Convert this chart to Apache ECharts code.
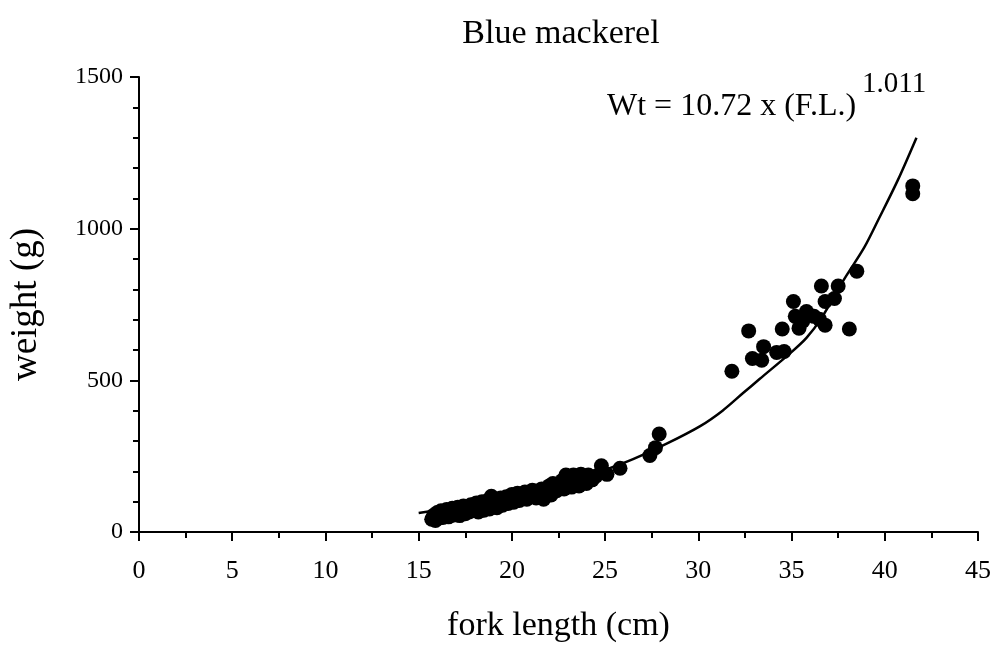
<!DOCTYPE html>
<html>
<head>
<meta charset="utf-8">
<title>Blue mackerel</title>
<script src="https://cdn.jsdelivr.net/npm/echarts@6/dist/echarts.min.js"></script>
<style>
  html, body { margin: 0; padding: 0; background: #fff; }
  #chart { width: 997px; height: 648px; }
</style>
</head>
<body>
<div id="chart"></div>
<script>
// Fork length (cm) of each sampled fish
const forkLength = [
  15.7, 15.8, 15.9, 16.0, 16.1, 16.2, 16.3, 16.4, 16.5, 16.6,
  16.7, 16.8, 16.9, 17.0, 17.1, 17.2, 17.3, 17.4, 17.5, 17.6,
  17.7, 17.8, 17.9, 18.0, 18.1, 18.2, 18.3, 18.4, 18.5, 18.6,
  18.7, 18.8, 18.9, 19.0, 19.1, 19.2, 19.3, 19.4, 19.5, 19.6,
  19.7, 19.8, 19.9, 20.0, 20.1, 20.2, 20.3, 20.4, 20.5, 20.7,
  20.8, 21.0, 21.1, 21.3, 21.4, 21.6, 21.7, 21.8, 22.0, 22.1,
  22.2, 22.4, 22.5, 22.7, 22.8, 22.9, 23.0, 23.1, 23.2, 23.3,
  23.4, 23.5, 23.6, 23.7, 23.8, 23.9, 24.0, 24.1, 24.3, 24.5,
  24.8, 25.1, 25.8,
  27.4, 27.7, 27.9,
  31.8, 32.7, 32.9, 33.4, 33.5, 34.2, 34.6, 34.5, 35.1, 35.2,
  35.4, 35.6, 35.8, 36.2, 36.5, 36.6, 36.8, 36.8, 37.3, 37.5,
  38.1, 38.5, 41.5, 41.5
];
// Weight (g) of each sampled fish
const weight = [
  42, 55, 38, 64, 46, 70, 48, 58, 74, 50,
  64, 78, 56, 70, 82, 54, 74, 86, 60, 80,
  66, 90, 70, 82, 96, 66, 86, 100, 72, 92,
  104, 76, 118, 90, 108, 80, 100, 112, 88, 106,
  116, 94, 110, 124, 98, 118, 128, 104, 120, 132,
  108, 126, 138, 112, 132, 142, 108, 136, 152, 122,
  160, 136, 158, 170, 142, 188, 160, 178, 148, 188,
  165, 184, 152, 190, 168, 184, 160, 188, 172, 184,
  218, 190, 210,
  252, 278, 323,
  530, 663, 572, 566, 611, 592, 595, 669, 760, 711,
  672, 695, 727, 711, 701, 811, 760, 682, 770, 811,
  669, 860, 1141, 1115
];

// Fitted length-weight curve
const curveLength = [15.0, 17.0, 19.0, 21.0, 23.0, 25.0, 26.5, 28.3, 30.1, 31.3,
                     32.4, 33.3, 34.9, 35.8, 36.6, 37.8, 38.9, 39.7, 40.7, 41.7];
const curveWeight = [63, 82, 103, 130, 165, 205, 240, 291, 349, 400,
                     458, 505, 588, 640, 705, 831, 938, 1035, 1160, 1300];

const xTicks = [0, 5, 10, 15, 20, 25, 30, 35, 40, 45];
const yTicks = [0, 500, 1000, 1500];

const FONT = '"Liberation Serif", "DejaVu Serif", serif';

const points = forkLength.map((x, i) => [x, weight[i]]);
const curve = curveLength.map((x, i) => [x, curveWeight[i]]);

const chart = echarts.init(document.getElementById('chart'), null, { renderer: 'canvas' });

chart.setOption({
  backgroundColor: '#ffffff',
  animation: false,
  title: {
    text: 'Blue mackerel',
    left: 556,
    textAlign: 'center',
    top: 12,
    textStyle: { fontFamily: FONT, fontSize: 34, fontWeight: 'normal', color: '#000' }
  },
  grid: { left: 138, right: 19, top: 77, bottom: 106, containLabel: false },
  xAxis: {
    type: 'value',
    min: xTicks[0],
    max: xTicks[xTicks.length - 1],
    interval: xTicks[1] - xTicks[0],
    name: 'fork length (cm)',
    nameLocation: 'middle',
    nameGap: 77,
    nameTextStyle: { fontFamily: FONT, fontSize: 34, color: '#000' },
    axisLine: { show: true, onZero: false, lineStyle: { color: '#000', width: 2 } },
    axisTick: { show: true, inside: false, length: 9, lineStyle: { color: '#000', width: 2 } },
    minorTick: { show: true, splitNumber: 2, length: 6, lineStyle: { color: '#000', width: 2 } },
    axisLabel: { fontFamily: FONT, fontSize: 26, color: '#000', margin: 26 },
    splitLine: { show: false }
  },
  yAxis: {
    type: 'value',
    min: yTicks[0],
    max: yTicks[yTicks.length - 1],
    interval: yTicks[1] - yTicks[0],
    name: 'weight (g)',
    nameLocation: 'middle',
    nameGap: 94,
    nameTextStyle: { fontFamily: FONT, fontSize: 37, color: '#000' },
    axisLine: { show: true, onZero: false, lineStyle: { color: '#000', width: 2 } },
    axisTick: { show: true, inside: false, length: 9, lineStyle: { color: '#000', width: 2 } },
    minorTick: { show: true, splitNumber: 5, length: 6, lineStyle: { color: '#000', width: 2 } },
    axisLabel: {
      fontFamily: FONT, fontSize: 24, color: '#000', margin: 16,
      formatter: (v) => String(v)
    },
    splitLine: { show: false }
  },
  series: [
    {
      type: 'line',
      data: curve,
      smooth: 0.3,
      showSymbol: false,
      symbol: 'none',
      lineStyle: { color: '#000', width: 2.5 },
      z: 2
    },
    {
      type: 'scatter',
      data: points,
      symbol: 'circle',
      symbolSize: 15,
      itemStyle: { color: '#000', opacity: 1 },
      z: 3
    }
  ],
  graphic: [
    {
      type: 'text',
      left: 607,
      top: 91,
      style: { text: 'Wt = 10.72 x (F.L.)', font: '32px ' + FONT, fill: '#000' }
    },
    {
      type: 'text',
      left: 862,
      top: 70,
      style: { text: '1.011', font: '29px ' + FONT, fill: '#000' }
    }
  ]
});
</script>
</body>
</html>
